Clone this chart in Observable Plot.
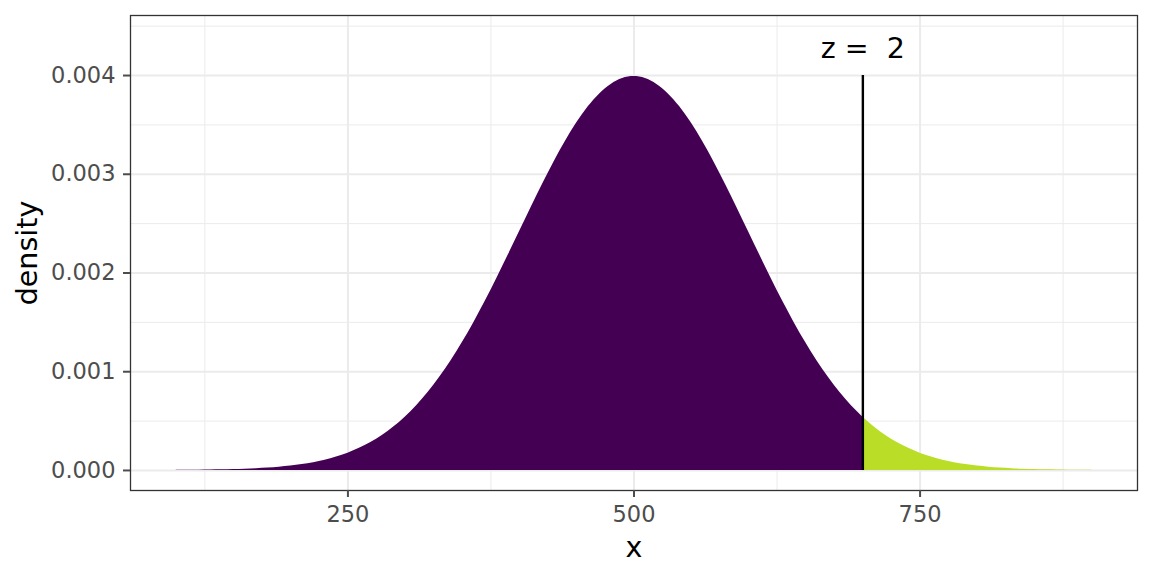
<!DOCTYPE html>
<html>
<head>
<meta charset="utf-8">
<script src="https://cdn.jsdelivr.net/npm/d3@7"></script>
<script src="https://cdn.jsdelivr.net/npm/@observablehq/plot@0.6"></script>
<style>
  body { margin: 0; background: #fff; }
  svg text { white-space: pre; }
</style>
</head>
<body>
<div id="chart"></div>
<script>
// x grid of the curve and density (mean 500, sd 100)
const xs = [100, 110, 120, 130, 140, 150, 160, 170, 180, 190,
  200, 210, 220, 230, 240, 250, 260, 270, 280, 290,
  300, 310, 320, 330, 340, 350, 360, 370, 380, 390,
  400, 410, 420, 430, 440, 450, 460, 470, 480, 490,
  500, 510, 520, 530, 540, 550, 560, 570, 580, 590,
  600, 610, 620, 630, 640, 650, 660, 670, 680, 690,
  700, 710, 720, 730, 740, 750, 760, 770, 780, 790,
  800, 810, 820, 830, 840, 850, 860, 870, 880, 890, 900];
const dens = [0.0000013, 0.0000020, 0.0000029, 0.0000042, 0.0000061, 0.0000087, 0.0000123, 0.0000172, 0.0000238, 0.0000327,
  0.0000443, 0.0000595, 0.0000792, 0.0001042, 0.0001358, 0.0001753, 0.0002239, 0.0002833, 0.0003547, 0.0004398,
  0.0005399, 0.0006562, 0.0007895, 0.0009405, 0.0011092, 0.0012952, 0.0014973, 0.0017137, 0.0019419, 0.0021785,
  0.0024197, 0.0026609, 0.0028969, 0.0031225, 0.0033322, 0.0035207, 0.0036827, 0.0038139, 0.0039104, 0.0039695,
  0.0039894, 0.0039695, 0.0039104, 0.0038139, 0.0036827, 0.0035207, 0.0033322, 0.0031225, 0.0028969, 0.0026609,
  0.0024197, 0.0021785, 0.0019419, 0.0017137, 0.0014973, 0.0012952, 0.0011092, 0.0009405, 0.0007895, 0.0006562,
  0.0005399, 0.0004398, 0.0003547, 0.0002833, 0.0002239, 0.0001753, 0.0001358, 0.0001042, 0.0000792, 0.0000595,
  0.0000443, 0.0000327, 0.0000238, 0.0000172, 0.0000123, 0.0000087, 0.0000061, 0.0000042, 0.0000029, 0.0000020, 0.0000013];

const zCut = 700;
const zTop = 0.004;
const zLabel = "z = \u00a02";
const zLabelY = 0.00427;

const xTicks = [250, 500, 750];
const xMinor = [125, 375, 625, 875];
const yTicks = [0, 0.001, 0.002, 0.003, 0.004];
const yMinor = [0.0005, 0.0015, 0.0025, 0.0035, 0.0045];

const curve = xs.map((x, i) => ({x: x, y: dens[i]}));
const lower = curve.filter(d => d.x <= zCut);
const upper = curve.filter(d => d.x >= zCut);

const grid = "#ebebeb";

const chart = Plot.plot({
  width: 1152,
  height: 576,
  marginLeft: 130,
  marginRight: 15,
  marginTop: 15,
  marginBottom: 86,
  style: {fontFamily: "DejaVu Sans", background: "#fff"},
  x: {domain: [60, 940], axis: null},
  y: {domain: [-0.000203, 0.004608], axis: null},
  marks: [
    Plot.ruleX(xMinor, {stroke: grid, strokeWidth: 1}),
    Plot.ruleY(yMinor, {stroke: grid, strokeWidth: 1}),
    Plot.ruleX(xTicks, {stroke: grid, strokeWidth: 2}),
    Plot.ruleY(yTicks, {stroke: grid, strokeWidth: 2}),
    Plot.areaY(lower, {x: "x", y: "y", fill: "#440154", curve: "natural"}),
    Plot.areaY(upper, {x: "x", y: "y", fill: "#bade28", curve: "natural"}),
    Plot.ruleX([zCut], {y1: 0, y2: zTop, stroke: "black", strokeWidth: 2.4}),
    Plot.text([zLabel], {x: zCut, y: zLabelY, text: d => d, fontSize: 28.5, fill: "black"}),
    Plot.frame({stroke: "#333", strokeWidth: 1.3}),
    Plot.axisX(xTicks, {anchor: "bottom", tickSize: 7, tickPadding: 9, fontSize: 22.5, color: "#4d4d4d", label: null, strokeWidth: 2}),
    Plot.axisY(yTicks, {anchor: "left", tickSize: 7, tickPadding: 8, fontSize: 22.5, color: "#4d4d4d", label: null, strokeWidth: 2, tickFormat: d3.format(".3f")}),
    Plot.text(["x"], {frameAnchor: "bottom", dy: 57, lineAnchor: "middle", fontSize: 28.5, fill: "black"}),
    Plot.text(["density"], {frameAnchor: "left", dx: -103, lineAnchor: "middle", textAnchor: "middle", rotate: -90, fontSize: 28.5, fill: "black"})
  ]
});

document.getElementById("chart").appendChild(chart);
</script>
</body>
</html>
